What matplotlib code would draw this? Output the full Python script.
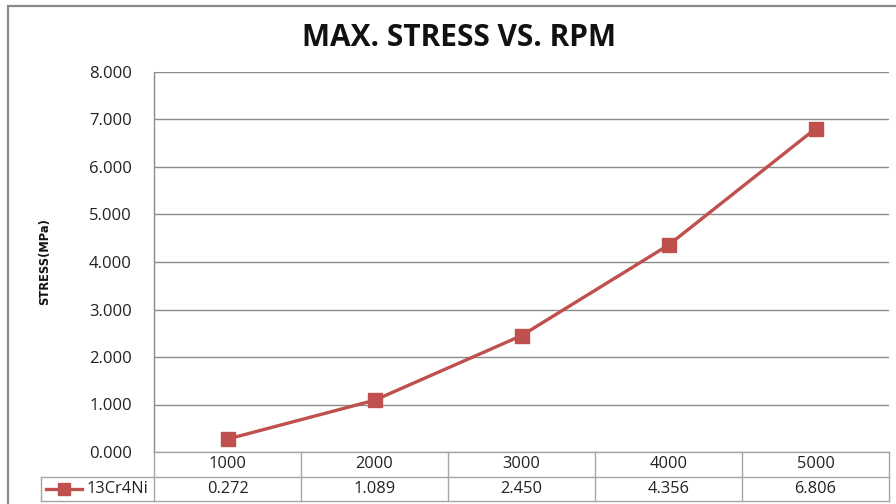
import matplotlib
matplotlib.use("Agg")
import matplotlib.pyplot as plt
from matplotlib.patches import Rectangle

rpm = ["1000", "2000", "3000", "4000", "5000"]
stress = [0.272, 1.089, 2.450, 4.356, 6.806]
series_name = "13Cr4Ni"
yticks = [0, 1, 2, 3, 4, 5, 6, 7, 8]

W, H = 896, 504
red = "#C0504D"
grid_c = "#8C8C8C"
tab_c = "#A6A6A6"
font = "Open Sans"

fig = plt.figure(figsize=(W / 100, H / 100), dpi=100)

def fx(px):
    return px / W

def fy(py):
    return 1 - py / H

# outer chart frame
fig.patches.append(Rectangle((fx(8), fy(520)), fx(900) - fx(8), fy(6) - fy(520),
                             transform=fig.transFigure, fill=False,
                             edgecolor="#8A8A8A", linewidth=1.6))

# main axes
L, R, T, B = 154, 889, 72, 452
ax = fig.add_axes([fx(L), fy(B), fx(R) - fx(L), fy(T) - fy(B)])
n = len(rpm)
xs = [i + 0.5 for i in range(n)]
ax.set_xlim(0, n)
ax.set_ylim(0, 8)
ax.set_yticks(yticks)
ax.set_yticklabels([f"{v:.3f}" for v in yticks], fontfamily=font, fontsize=12, color="#222222")
ax.set_xticks([])
ax.tick_params(axis="y", length=0, pad=16)
ax.grid(axis="y", color=grid_c, linewidth=1.0)
ax.set_axisbelow(True)
for s in ["top", "right", "bottom"]:
    ax.spines[s].set_visible(False)
ax.spines["left"].set_color(grid_c)
ax.spines["left"].set_linewidth(1.0)
ax.plot(xs, stress, color=red, linewidth=2.4, marker="s", markersize=9.5,
        markerfacecolor=red, markeredgecolor=red, clip_on=False, zorder=5)

ax.set_ylabel("STRESS(MPa)", fontfamily=["Liberation Sans Narrow", "DejaVu Sans"],
              fontweight="bold", fontsize=8.3, labelpad=27, color="#111111")

fig.text(fx(459), fy(38), "MAX. STRESS VS. RPM", ha="center", va="center",
         fontfamily=font, fontweight="bold", fontsize=21.5, color="#111111")

# data table below
TL = 41
tab = fig.add_axes([fx(TL), fy(501), fx(R) - fx(TL), fy(B) - fy(501)])
x_left = -(L - TL) * n / (R - L)
tab.set_xlim(x_left, n)
tab.set_ylim(0, 2)
tab.axis("off")
lw = 1.0
tab.plot([0, n], [2, 2], color=tab_c, lw=lw, clip_on=False)
tab.plot([x_left, n], [1, 1], color=tab_c, lw=lw, clip_on=False)
tab.plot([x_left, n], [0, 0], color=tab_c, lw=lw, clip_on=False)
for i in range(n + 1):
    tab.plot([i, i], [0, 2], color=tab_c, lw=lw, clip_on=False)
tab.plot([x_left, x_left], [0, 1], color=tab_c, lw=lw, clip_on=False)
for i in range(n):
    tab.text(i + 0.5, 1.5, rpm[i], ha="center", va="center", fontfamily=font,
             fontsize=11.8, color="#222222")
    tab.text(i + 0.5, 0.5, f"{stress[i]:.3f}", ha="center", va="center", fontfamily=font,
             fontsize=11.8, color="#222222")
# legend key
u = n / (R - L)
tab.plot([x_left + 5 * u, x_left + 41 * u], [0.5, 0.5], color=red, lw=2.4, clip_on=False)
tab.plot([x_left + 23 * u], [0.5], marker="s", markersize=8.5, color=red, clip_on=False)
tab.text(x_left + 45 * u, 0.5, series_name, ha="left", va="center", fontfamily=font,
         fontsize=11.8, color="#222222")

fig.savefig("out.png", dpi=100)
